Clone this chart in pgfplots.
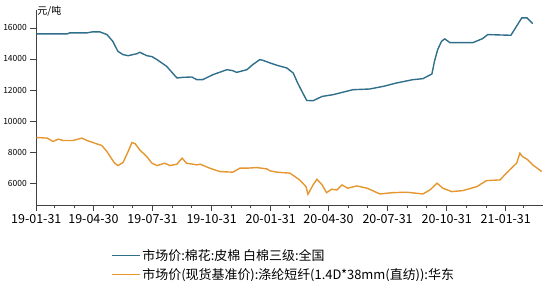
\documentclass[border=0pt]{standalone}
\usepackage{pgfplots}
\pgfplotsset{compat=1.18}
\usepackage{fontspec}
\setmainfont{Noto Sans CJK SC}
\definecolor{cotton}{HTML}{2F6F8A}
\definecolor{poly}{HTML}{E5962F}
\definecolor{axgray}{HTML}{404040}
\begin{document}
\begin{tikzpicture}[x=1bp,y=1bp]
\begin{axis}[
  at={(0,0)}, anchor=south west,
  width=506.7bp, height=195bp, scale only axis,
  xmin=0, xmax=789, ymin=4600, ymax=17150,
  axis lines=left,
  axis line style={-, axgray, line width=0.8pt},
  tick style={axgray, line width=0.6pt},
  tick align=outside,
  major tick length=6bp, minor tick length=3bp,
  xtick={0,89,181,273,365,455,547,639,731},
  xticklabels={19-01-31,19-04-30,19-07-31,19-10-31,20-01-31,20-04-30,20-07-31,20-10-31,21-01-31},
  minor xtick={28,59,120,150,212,242,303,334,394,425,486,516,578,608,669,700,759},
  ytick={6000,8000,10000,12000,14000,16000},
  scaled y ticks=false,
  /pgf/number format/assume math mode=true,
  /pgf/number format/1000 sep={},
  yticklabel style={font=\fontsize{8.5}{10}\selectfont, text=black},
  xticklabel style={font=\fontsize{12.5}{14}\selectfont, text=black},
  clip=false,
  legend style={at={(rel axis cs:0.147,-0.215)}, anchor=north west, draw=none, fill=none,
    font=\fontsize{13}{15}\selectfont, row sep=2.5bp, inner sep=0pt},
  legend cell align=left,
  legend image code/.code={\draw[#1, line width=1.5pt] (0bp,0bp) -- (28bp,0bp);},
]
\addplot[cotton, line width=1.4pt] coordinates {
(0,15610) (48,15610) (52,15680) (79,15680) (87,15740) (99,15740) (110,15570)
(119,15140) (127,14490) (135,14280) (143,14210) (157,14340) (161,14430) (172,14210)
(180,14150) (188,13955) (203,13523) (219,12775) (228,12814) (242,12840) (250,12665)
(259,12665) (275,12988) (297,13310) (306,13246) (312,13136) (328,13310) (337,13633)
(348,13955) (353,13910) (364,13742) (375,13588) (390,13420) (400,13097) (407,12452)
(415,11807) (421,11330) (431,11311) (445,11588) (462,11698) (493,12020) (519,12065)
(540,12233) (561,12452) (586,12665) (602,12730) (616,13033) (620,13846) (625,14600)
(631,15136) (636,15290) (644,15052) (680,15052) (695,15310) (703,15568) (739,15523)
(756,16645) (764,16645) (773,16277)
};
\addlegendentry{市场价:棉花:皮棉 白棉三级:全国}
\addplot[poly, line width=1.4pt] coordinates {
(0,8944) (17,8905) (26,8686) (34,8840) (42,8750) (57,8750) (71,8905) (79,8750)
(94,8537) (102,8428) (110,8041) (115,7718) (122,7293) (127,7138) (135,7331)
(143,8041) (149,8621) (154,8537) (161,8150) (172,7718) (180,7293) (188,7138)
(200,7293) (208,7138) (219,7228) (227,7615) (234,7293) (250,7183) (255,7228)
(270,6970) (286,6751) (306,6712) (317,6970) (328,6970) (343,7009) (359,6925)
(364,6796) (375,6712) (395,6648) (410,6215) (420,5783) (423,5293) (431,5893)
(437,6260) (445,5893) (452,5396) (460,5616) (468,5570) (476,5893) (485,5680)
(499,5828) (515,5680) (535,5312) (555,5396) (577,5422) (602,5312) (613,5570)
(624,6003) (633,5680) (647,5461) (664,5525) (686,5783) (701,6170) (722,6215)
(737,6860) (748,7293) (753,7938) (757,7718) (764,7550) (773,7183) (787,6751)
};
\addlegendentry{市场价(现货基准价):涤纶短纤(1.4D*38mm(直纺)):华东}
\node[anchor=north west, inner sep=0pt, font=\fontsize{10}{12}\selectfont] at (rel axis cs:0,1) [yshift=4bp, xshift=1bp] {元/吨};
\end{axis}
\pgfresetboundingbox
\path (-36.3bp,-76bp) rectangle (513.7bp,205bp);
\end{tikzpicture}
\end{document}
